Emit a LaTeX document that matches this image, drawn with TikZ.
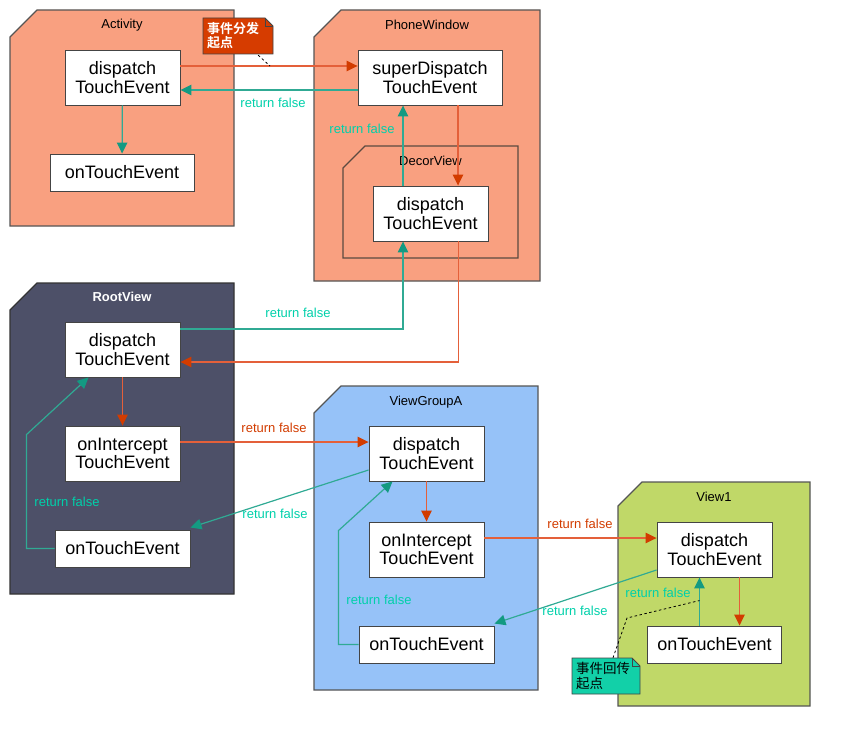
\documentclass[tikz,border=0pt]{standalone}
\usepackage{fontspec}
\setmainfont{Liberation Sans}
\newfontfamily\cjk{Noto Sans CJK SC}[BoldFont={Noto Sans CJK SC Bold}]
\usetikzlibrary{calc,arrows.meta}
\definecolor{salmon}{HTML}{F9A080}
\definecolor{rootgray}{HTML}{4D5068}
\definecolor{vgablue}{HTML}{96C2F8}
\definecolor{viewgreen}{HTML}{C0D868}
\definecolor{pkgline}{HTML}{555555}
\definecolor{decorline}{HTML}{5C4A40}
\definecolor{boxline}{HTML}{444444}
\definecolor{redline}{HTML}{E4603A}
\definecolor{redhead}{HTML}{D23C00}
\definecolor{tealline}{HTML}{30AA94}
\definecolor{tealhead}{HTML}{139A82}
\definecolor{teallabel}{HTML}{00D0AA}
\definecolor{notered}{HTML}{D63C00}
\definecolor{noteteal}{HTML}{12D0A8}
\tikzset{
    % method boxes, package frames and the two kinds of call arrows
    method/.style={draw=boxline,fill=white,line width=0.9pt,align=center,inner sep=0,minimum width=115pt,minimum height=55pt,font=\fontsize{18}{18.5}\selectfont},
    handler/.style={method,minimum width=135pt,minimum height=37pt},
    pkg/.style={draw=pkgline,line width=1.2pt},
    pkglabel/.style={inner sep=0,font=\fontsize{13}{14}\selectfont},
    lbl/.style={inner sep=0,font=\fontsize{13}{14}\selectfont},
    call/.style={draw=redline,line width=1.2pt,-{Triangle[length=11pt,width=10.5pt,color=redhead]}},
    back/.style={draw=tealline,line width=1.2pt,-{Triangle[length=11pt,width=10.5pt,color=tealhead]}},
    notebody/.style={draw=boxline,line width=0.9pt},
    notetext/.style={inner sep=0,minimum width=70pt,minimum height=36pt,align=left},
    notelink/.style={draw=black,dash pattern=on 2.5pt off 2.5pt,line width=0.8pt}
    }
% package frame with a cut top-left corner
\newcommand{\pkgframe}[6]{\draw[#6] (#1,#2+#5) -- (#1+#5,#2) -- (#3,#2) -- (#3,#4) -- (#1,#4) -- cycle;}
\begin{document}
\begin{tikzpicture}[x=1pt,y=-1pt]
    \useasboundingbox (0,0) rectangle (850,746);
    % The packages
    \pkgframe{10}{10}{234}{226}{27}{pkg,fill=salmon}
    \node[pkglabel] (actlbl) at (122,25) {Activity};
    \pkgframe{314}{10}{540}{281}{27}{pkg,fill=salmon}
    \node[pkglabel] (pwlbl) at (427,25) {PhoneWindow};
    \pkgframe{343}{146}{518}{258}{22}{pkg,draw=decorline,line width=1.4pt}
    \node[pkglabel] (decorlbl) at (430.5,161) {DecorView};
    \pkgframe{10}{283}{234}{594}{27}{pkg,draw=black!80,fill=rootgray}
    \node[pkglabel,text=white,font=\bfseries\fontsize{13}{14}\selectfont] (rootlbl) at (122,297) {RootView};
    \pkgframe{314}{386}{538}{690}{27}{pkg,fill=vgablue}
    \node[pkglabel] (vgalbl) at (426,402) {ViewGroupA};
    \pkgframe{618}{482}{810}{706}{24}{pkg,fill=viewgreen}
    \node[pkglabel] (v1lbl) at (714,497) {View1};
    % The methods
    \node[method] (actdisp) at (122.5,77.5) {dispatch\\TouchEvent};
    \node[handler,minimum width=144pt] (acttouch) at (122,172.5) {onTouchEvent};
    \node[method,minimum width=144pt] (super) at (430,77.5) {superDispatch\\TouchEvent};
    \node[method] (decor) at (430.5,213.5) {dispatch\\TouchEvent};
    \node[method] (rootdisp) at (122.5,349.5) {dispatch\\TouchEvent};
    \node[method] (rootint) at (122.5,453.5) {onIntercept\\TouchEvent};
    \node[handler] (roottouch) at (122.5,548.5) {onTouchEvent};
    \node[method] (vgadisp) at (426.5,453.5) {dispatch\\TouchEvent};
    \node[method] (vgaint) at (426.5,549.5) {onIntercept\\TouchEvent};
    \node[handler] (vgatouch) at (426.5,644.5) {onTouchEvent};
    \node[method] (v1disp) at (714.5,549.5) {dispatch\\TouchEvent};
    \node[handler,minimum width=134pt] (v1touch) at (714.5,644.5) {onTouchEvent};
    % Dispatching downwards
    \draw[call] ($(actdisp.east)+(0,-11.5)$) -- ($(super.west)+(0,-11.5)$);
    \draw[call] ($(super.south)+(28,0)$) -- ($(decor.north)+(27.5,0)$);
    \draw[call] ($(decor.south)+(28,0)$) |- ($(rootdisp.east)+(0,12.5)$);
    \draw[call] (rootdisp) -- (rootint);
    \draw[call] ($(rootint.east)+(0,-11.5)$) -- ($(vgadisp.west)+(0,-11.5)$);
    \draw[call] (vgadisp) -- (vgaint);
    \draw[call] ($(vgaint.east)+(0,-11.5)$) -- ($(v1disp.west)+(0,-11.5)$);
    \draw[call] ($(v1disp.south)+(25,0)$) -- ($(v1touch.north)+(25,0)$);
    % Returning false upwards
    \draw[back] (actdisp) -- (acttouch);
    \draw[back] ($(super.west)+(0,12.5)$) -- ($(actdisp.east)+(0,12.5)$);
    \draw[back] ($(decor.north)+(-27.5,0)$) -- ($(super.south)+(-27,0)$);
    \draw[back] ($(rootdisp.east)+(0,-20.5)$) -| ($(decor.south)+(-27.5,0)$);
    \draw[back] (roottouch.west) -- ++(-28,0) -- ++(0,-114) -- ($(rootdisp.south)+(-34,0)$);
    \draw[back] ($(vgadisp.west)+(0,16.5)$) -- ($(roottouch.north east)+(0,-2)$);
    \draw[back] (vgatouch.west) -- ++(-20,0) -- ++(0,-114) -- ($(vgadisp.south)+(-34,0)$);
    \draw[back] ($(v1disp.west)+(0,20.5)$) -- ($(vgatouch.north east)+(0,-2)$);
    \draw[back] ($(v1touch.north)+(-15,0)$) -- ($(v1disp.south)+(-15,0)$);
    % Arrow labels
    \node[lbl,text=teallabel] (rf1) at (273,103) {return false};
    \node[lbl,text=teallabel] (rf2) at (362,129) {return false};
    \node[lbl,text=teallabel] (rf3) at (298,313) {return false};
    \node[lbl,text=redhead] (rf4) at (274,428) {return false};
    \node[lbl,text=teallabel] (rf5) at (275,514) {return false};
    \node[lbl,text=teallabel] (rf6) at (67,502) {return false};
    \node[lbl,text=teallabel] (rf7) at (379,600) {return false};
    \node[lbl,text=redhead] (rf8) at (580,524) {return false};
    \node[lbl,text=teallabel] (rf9) at (575,611) {return false};
    \node[lbl,text=teallabel] (rf10) at (658,593) {return false};
    % Notes
    \filldraw[notebody,fill=notered] (203,18) -- (265,18) -- (273,26) -- (273,54) -- (203,54) -- cycle;
    \draw[notebody] (265,18) -- (265,26) -- (273,26);
    \node[notetext,text width=62pt,text=white,font=\cjk\bfseries\fontsize{13}{14}\selectfont] (startnote) at (238,36) {事件分发\\起点};
    \coordinate (startpt) at (270,66);
    \draw[notelink] ($(startnote.south east)+(-15,1)$) -- (startpt);
    \filldraw[notebody,fill=noteteal] (572,658) -- (632,658) -- (640,666) -- (640,694) -- (572,694) -- cycle;
    \draw[notebody] (632,658) -- (632,666) -- (640,666);
    \node[notetext,minimum width=68pt,text width=60pt,font=\cjk\fontsize{13.5}{14.5}\selectfont] (backnote) at (606,676) {事件回传\\起点};
    \coordinate (backpt) at ($(v1touch.north)+(-15,-25)$);
    \draw[notelink] ($(backnote.north)+(7,0)$) -- (627,618) -- (backpt);
\end{tikzpicture}
\end{document}
